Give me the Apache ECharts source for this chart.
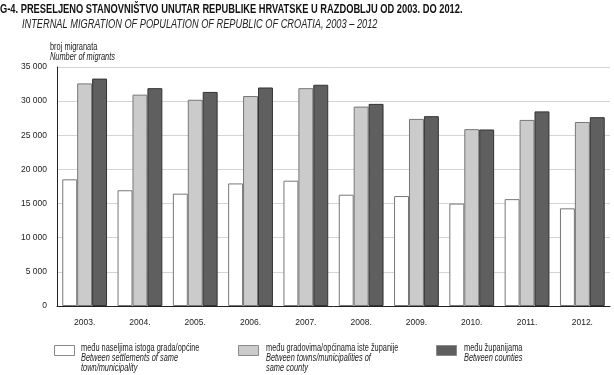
<!DOCTYPE html>
<html><head><meta charset="utf-8">
<script src="https://cdn.jsdelivr.net/npm/echarts@6/dist/echarts.min.js"></script>
<style>html,body{margin:0;padding:0;background:#fff}#c{width:614px;height:375px}</style>
</head><body><div id="c"></div>
<script>
var categories = ['2003.','2004.','2005.','2006.','2007.','2008.','2009.','2010.','2011.','2012.'];
var settlements = [18550, 16950, 16450, 17950, 18350, 16300, 16100, 15000, 15650, 14300];
var towns = [32600, 30950, 30200, 30750, 31900, 29200, 27400, 25900, 27250, 26950];
var counties = [33300, 31900, 31350, 32000, 32400, 29600, 27800, 25850, 28500, 27650];
var yTicks = [0, 5000, 10000, 15000, 20000, 25000, 30000, 35000];

var F = '"Liberation Sans", Arial, sans-serif';
var chart = echarts.init(document.getElementById('c'), null, {renderer:'canvas'});
function fmt(v){ return v >= 1000 ? String(v).replace(/(\d)(?=(\d{3})$)/, '$1 ') : String(v); }
var legendItems = [
  {x:54, fill:'#ffffff', lines:['među naseljima istoga grada/općine'], it:['Between settlements of same','town/municipality'], tx:81},
  {x:238, fill:'#cbcbcb', lines:['među gradovima/općinama iste županije'], it:['Between towns/municipalities of','same county'], tx:266},
  {x:436, fill:'#5f5f5f', lines:['među županijama'], it:['Between counties'], tx:464}
];
var SX = 0.74;
var graphics = [];
function txt(x, y, s, font, lh){
  graphics.push({type:'text', x:x, y:y, scaleX:SX, style:{text:s, font:font, fill:'#222', lineHeight:lh||10}});
}
legendItems.forEach(function(L){
  graphics.push({type:'rect', left:L.x, top:345, shape:{width:20, height:10}, style:{fill:L.fill, stroke:'#8a8a8a', lineWidth:1}});
  txt(L.tx, 343, L.lines.join('\n'), '10px '+F);
  txt(L.tx, 353, L.it.join('\n'), 'italic 10px '+F);
});
graphics.push({type:'text', x:0, y:3, scaleX:0.70, style:{text:'G-4. PRESELJENO STANOVNIŠTVO UNUTAR REPUBLIKE HRVATSKE U RAZDOBLJU OD 2003. DO 2012.', font:'bold 13.3px '+F, fill:'#111'}});
graphics.push({type:'text', x:22, y:18, scaleX:0.71, style:{text:'INTERNAL MIGRATION OF POPULATION OF REPUBLIC OF CROATIA, 2003 – 2012', font:'italic 13px '+F, fill:'#222'}});
txt(50, 42, 'broj migranata', '10px '+F);
txt(50, 52, 'Number of migrants', 'italic 10px '+F);

function bar(name, data, fill, stroke){
  return {name:name, type:'bar', data:data, barGap:'0%', barCategoryGap:'19%',
    itemStyle:{color:fill, borderColor:stroke, borderWidth:1}, emphasis:{disabled:true}};
}
chart.setOption({
  animation:false,
  grid:{left:57, right:4, top:67, bottom:69, containLabel:false},
  xAxis:{type:'category', data:categories,
    axisLine:{lineStyle:{color:'#222', width:1}}, axisTick:{show:false},
    axisLabel:{color:'#222', fontFamily:F, fontSize:8.5, margin:12}},
  yAxis:{type:'value', min:0, max:35000, interval:5000,
    axisLine:{show:true, lineStyle:{color:'#222'}}, axisTick:{show:false},
    splitLine:{lineStyle:{color:'#d4d4d4', width:1}},
    axisLabel:{color:'#222', fontFamily:F, fontSize:8.5, margin:10, formatter:function(v){return fmt(v);}}},
  series:[
    bar('među naseljima istoga grada/općine', settlements, '#ffffff', '#777777'),
    bar('među gradovima/općinama iste županije', towns, '#cbcbcb', '#777777'),
    bar('među županijama', counties, '#5f5f5f', '#333333')
  ],
  graphic:graphics
});
</script></body></html>
